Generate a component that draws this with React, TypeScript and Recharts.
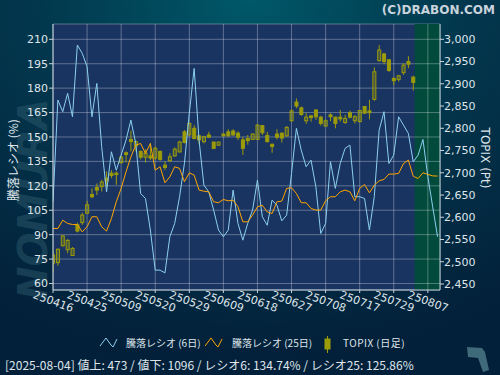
import React from "react";
import { ComposedChart, Line, Bar, XAxis, YAxis, CartesianGrid, ReferenceArea, ReferenceLine } from "recharts";

// trading-day index of each x tick and its label
const X_TICKS = [0, 7, 14, 21, 28, 35, 42, 49, 56, 63, 70, 77];
const X_TICK_LABELS = [
  "250416", "250425", "250509", "250520", "250529", "250609",
  "250618", "250627", "250708", "250717", "250729", "250807",
];
const LEFT_TICKS = [60, 75, 90, 105, 120, 135, 150, 165, 180, 195, 210];
const RIGHT_TICKS = [2450, 2500, 2550, 2600, 2650, 2700, 2750, 2800, 2850, 2900, 2950, 3000];

// 騰落レシオ (6日)
const RATIO6 = [
  110.2, 172.7, 165.5, 176.8, 162.4, 206.5, 201.4, 193.2, 162.4, 182.9,
  144.0, 116.3, 140.9, 129.6, 138.9, 148.1, 160.4, 146.0, 115.3, 112.2,
  92.8, 68.2, 68.2, 66.5, 88.7, 96.9, 113.3, 133.8, 164.5, 192.1,
  148.1, 120.4, 116.3, 105.1, 92.8, 88.7, 92.8, 117.4, 96.9, 86.6,
  96.9, 105.1, 123.5, 101.0, 95.8, 111.2, 108.1, 98.5, 102.0, 127.6,
  155.3, 141.9, 131.7, 135.8, 119.4, 90.7, 96.9, 134.8, 118.4, 133.7,
  143.0, 145.0, 113.3, 113.3, 112.2, 92.8, 113.3, 154.2, 165.5, 133.7,
  138.9, 162.4, 157.3, 152.2, 134.7, 138.9, 148.5, 125.6, 107.1, 88.7,
];

// 騰落レシオ (25日)
const RATIO25 = [
  93.8, 93.8, 98.9, 96.9, 96.2, 96.2, 91.7, 94.8, 101.0, 101.0,
  94.8, 92.2, 99.9, 110.2, 118.4, 128.6, 137.8, 145.0, 146.0, 139.9,
  146.0, 129.6, 131.7, 121.9, 125.5, 131.7, 130.7, 122.5, 128.0, 126.6,
  117.4, 116.7, 116.3, 110.2, 109.6, 111.6, 110.8, 111.2, 107.1, 97.9,
  97.9, 102.0, 107.1, 108.1, 104.0, 103.0, 110.2, 110.6, 118.4, 118.8,
  115.3, 109.6, 109.6, 106.1, 105.1, 105.1, 110.8, 113.3, 113.3, 116.3,
  117.4, 116.3, 110.8, 118.4, 120.8, 115.7, 120.4, 123.1, 123.9, 127.2,
  127.2, 127.6, 133.7, 135.8, 125.9, 124.5, 128.0, 127.0, 126.1, 126.0,
];

// TOPIX daily candles
const TOPIX_OPEN = [
  2497, 2498, 2536, 2527, 2514, 2583, 2588, 2609, 2651, 2667,
  2669, 2688, 2699, 2699, 2723, 2745, 2775, 2760, 2748, 2735,
  2738, 2733, 2748, 2717, 2727, 2738, 2747, 2792, 2785, 2800,
  2783, 2770, 2785, 2769, 2762, 2787, 2792, 2794, 2789, 2774,
  2777, 2775, 2775, 2806, 2784, 2764, 2787, 2789, 2783, 2817,
  2859, 2846, 2817, 2828, 2841, 2825, 2805, 2830, 2825, 2825,
  2813, 2835, 2817, 2815, 2849, 2839, 2865, 2952, 2967, 2954,
  2912, 2910, 2925, 2950, 2915,
];
const TOPIX_HIGH = [
  2523, 2530, 2560, 2551, 2533, 2588, 2610, 2637, 2665, 2676,
  2684, 2703, 2706, 2703, 2738, 2748, 2795, 2772, 2750, 2753,
  2766, 2759, 2750, 2725, 2744, 2757, 2772, 2796, 2813, 2807,
  2785, 2783, 2792, 2770, 2770, 2789, 2798, 2798, 2793, 2781,
  2785, 2789, 2810, 2807, 2792, 2766, 2798, 2790, 2805, 2843,
  2867, 2849, 2834, 2829, 2843, 2828, 2820, 2834, 2826, 2841,
  2830, 2840, 2830, 2841, 2850, 2864, 2937, 2987, 2970, 2955,
  2915, 2920, 2946, 2962, 2918,
];
const TOPIX_LOW = [
  2478, 2491, 2534, 2519, 2513, 2566, 2583, 2608, 2643, 2650,
  2658, 2669, 2688, 2673, 2720, 2723, 2748, 2748, 2730, 2723,
  2729, 2729, 2727, 2706, 2724, 2736, 2745, 2766, 2783, 2775,
  2765, 2766, 2778, 2753, 2760, 2782, 2781, 2783, 2774, 2740,
  2763, 2774, 2774, 2785, 2768, 2745, 2775, 2768, 2781, 2815,
  2845, 2828, 2810, 2815, 2819, 2806, 2804, 2816, 2800, 2815,
  2810, 2822, 2811, 2813, 2832, 2820, 2862, 2950, 2944, 2927,
  2897, 2905, 2920, 2935, 2885,
];
const TOPIX_CLOSE = [
  2515, 2528, 2558, 2548, 2530, 2569, 2605, 2628, 2646, 2661,
  2679, 2682, 2694, 2696, 2735, 2741, 2770, 2770, 2735, 2744,
  2733, 2755, 2730, 2712, 2736, 2753, 2769, 2768, 2811, 2777,
  2774, 2781, 2780, 2755, 2769, 2783, 2783, 2785, 2780, 2755,
  2772, 2787, 2807, 2790, 2770, 2759, 2780, 2778, 2802, 2839,
  2850, 2831, 2825, 2824, 2826, 2811, 2817, 2826, 2811, 2821,
  2822, 2825, 2826, 2840, 2834, 2835, 2927, 2976, 2950, 2930,
  2907, 2918, 2942, 2944, 2903,
];

// shaded span after the last session
const SHADE_FROM = 74.3;
const X_MAX = 79.5;

const OLIVE = "#9c9c08";
const TEXT = "#dfe5ea";
const GRID = "rgba(255,255,255,0.3)";
const FONT = "'DejaVu Sans', sans-serif";
const JP = "'Noto Sans CJK JP', 'DejaVu Sans', sans-serif";

const rows = RATIO6.map((r6, i) => ({
  i,
  r6,
  r25: RATIO25[i],
  open: TOPIX_OPEN[i] ?? null,
  high: TOPIX_HIGH[i] ?? null,
  low: TOPIX_LOW[i] ?? null,
  close: TOPIX_CLOSE[i] ?? null,
}));

function Candle(props: any) {
  const { x, y, width, height, payload } = props;
  if (payload == null || payload.high == null) return null;
  const { open, close, high, low } = payload;
  const k = high > low ? height / (high - low) : 0;
  const yOf = (v: number) => y + (high - v) * k;
  const top = yOf(Math.max(open, close));
  const bot = yOf(Math.min(open, close));
  const cx = x + width / 2;
  const up = close >= open;
  return (
    <g>
      <line x1={cx} x2={cx} y1={y} y2={top} stroke={OLIVE} strokeWidth={1} />
      <line x1={cx} x2={cx} y1={bot} y2={y + height} stroke={OLIVE} strokeWidth={1} />
      <rect
        x={x}
        y={top}
        width={width}
        height={Math.max(bot - top, 1)}
        fill={OLIVE}
        fillOpacity={up ? 0.35 : 1}
        stroke={OLIVE}
        strokeWidth={1}
      />
    </g>
  );
}

function DateTick({ x, y, payload }: any) {
  const label = X_TICK_LABELS[X_TICKS.indexOf(payload.value)] ?? "";
  return (
    <g transform={`translate(${x - 1},${y + 10}) rotate(20)`}>
      <text textAnchor="middle" fill={TEXT} fontSize={11} fontFamily={FONT}>
        {label}
      </text>
    </g>
  );
}

export default function App() {
  return (
    <div style={{ position: "absolute", left: 0, top: 0, width: 500, height: 375, overflow: "hidden" }}>
      <svg width={500} height={375} style={{ position: "absolute", left: 0, top: 0 }}>
        <defs>
          <radialGradient id="bg" cx="50%" cy="0%" r="95%" fx="50%" fy="0%">
            <stop offset="0%" stopColor="#005868" />
            <stop offset="45%" stopColor="#02374d" />
            <stop offset="100%" stopColor="#03203a" />
          </radialGradient>
        </defs>
        <rect width={500} height={375} fill="url(#bg)" />
        <text
          transform="translate(47,300) rotate(-90)"
          fontSize={40}
          fontWeight="bold"
          fontStyle="italic"
          fontFamily={FONT}
          fill="#2a5668"
          fillOpacity={0.55}
        >
          NOMURA
        </text>
        <text x={495} y={14} textAnchor="end" fontSize={12} fontWeight="bold" fontFamily={FONT} fill="#c9d3dc">
          (C)DRABON.COM
        </text>
        <text transform="translate(18,160) rotate(-90)" textAnchor="middle" fontSize={12} fontFamily={JP} fill={TEXT}>
          騰落レシオ (%)
        </text>
        <text transform="translate(481,158) rotate(90)" textAnchor="middle" fontSize={12} fontFamily={FONT} fill={TEXT}>
          TOPIX (Pt)
        </text>

        <polyline points="100,346 106,338 111,345 113,347 117,339" fill="none" stroke="#8cd0f0" strokeWidth={1} />
        <text x={126} y={347} fontSize={10} fontFamily={JP} fill={TEXT}>騰落レシオ (6日)</text>
        <polyline points="205,346 211,338 216,345 218,347 222,339" fill="none" stroke="#ffa500" strokeWidth={1} />
        <text x={232} y={347} fontSize={10} fontFamily={JP} fill={TEXT}>騰落レシオ (25日)</text>
        <line x1={327.5} x2={327.5} y1={336} y2={353} stroke={OLIVE} />
        <rect x={325} y={339} width={5} height={10} fill={OLIVE} stroke={OLIVE} />
        <text x={343} y={347} fontSize={10} fontFamily={JP} fill={TEXT} letterSpacing={0.5}>TOPIX (日足)</text>

        <text x={5} y={370} fontSize={12} fontFamily={JP} fill={TEXT}>
          [2025-08-04]  値上: 473 / 値下: 1096 / レシオ6: 134.74% / レシオ25: 125.86%
        </text>
        <path d="M467,347 L482,348 L485,352 L489,370 L483,372 L478,358 L468,357 Z" fill="#3f6a7a" />
      </svg>

      <div style={{ position: "absolute", left: 0, top: 0 }}>
        <ComposedChart width={500} height={375} data={rows} margin={{ top: 24, right: 0, left: 8, bottom: 55 }}>
          <CartesianGrid yAxisId="left" stroke={GRID} fill="#1a3462" fillOpacity={1} />
          <ReferenceArea x1={SHADE_FROM} x2={X_MAX} yAxisId="left" fill="#014a3c" fillOpacity={1} ifOverflow="hidden" />
          {LEFT_TICKS.map((t) => (
            <ReferenceLine
              key={`h${t}`}
              yAxisId="left"
              segment={[{ x: SHADE_FROM, y: t }, { x: X_MAX, y: t }]}
              stroke={GRID}
            />
          ))}
          {X_TICKS.filter((t) => t > SHADE_FROM).map((t) => (
            <ReferenceLine key={`v${t}`} yAxisId="left" x={t} stroke={GRID} />
          ))}
          <XAxis
            dataKey="i"
            type="number"
            domain={[0, X_MAX]}
            allowDataOverflow
            ticks={X_TICKS}
            interval={0}
            tick={<DateTick />}
            tickSize={3}
            height={30}
            stroke="#c8d2dc"
          />
          <YAxis
            yAxisId="left"
            orientation="left"
            width={45}
            domain={[56, 219.4]}
            allowDataOverflow
            ticks={LEFT_TICKS}
            interval={0}
            tickSize={4}
            tickMargin={1}
            stroke="#c8d2dc"
            tick={{ fill: TEXT, fontSize: 11, fontFamily: FONT }}
          />
          <YAxis
            yAxisId="right"
            orientation="right"
            width={60}
            domain={[2436.5, 3034.4]}
            allowDataOverflow
            ticks={RIGHT_TICKS}
            interval={0}
            tickSize={4}
            tickMargin={0}
            stroke="#c8d2dc"
            tickFormatter={(v: number) => v.toLocaleString("en-US")}
            tick={{ fill: TEXT, fontSize: 11, fontFamily: FONT }}
          />
          <Bar
            yAxisId="right"
            dataKey={(d: any) => (d.high == null ? null : [d.low, d.high])}
            barSize={3}
            shape={<Candle />}
            isAnimationActive={false}
          />
          <Line yAxisId="left" type="linear" dataKey="r6" stroke="#8cd0f0" strokeWidth={1} dot={false} isAnimationActive={false} />
          <Line yAxisId="left" type="linear" dataKey="r25" stroke="#ffa500" strokeWidth={1} dot={false} isAnimationActive={false} />
        </ComposedChart>
      </div>
    </div>
  );
}
